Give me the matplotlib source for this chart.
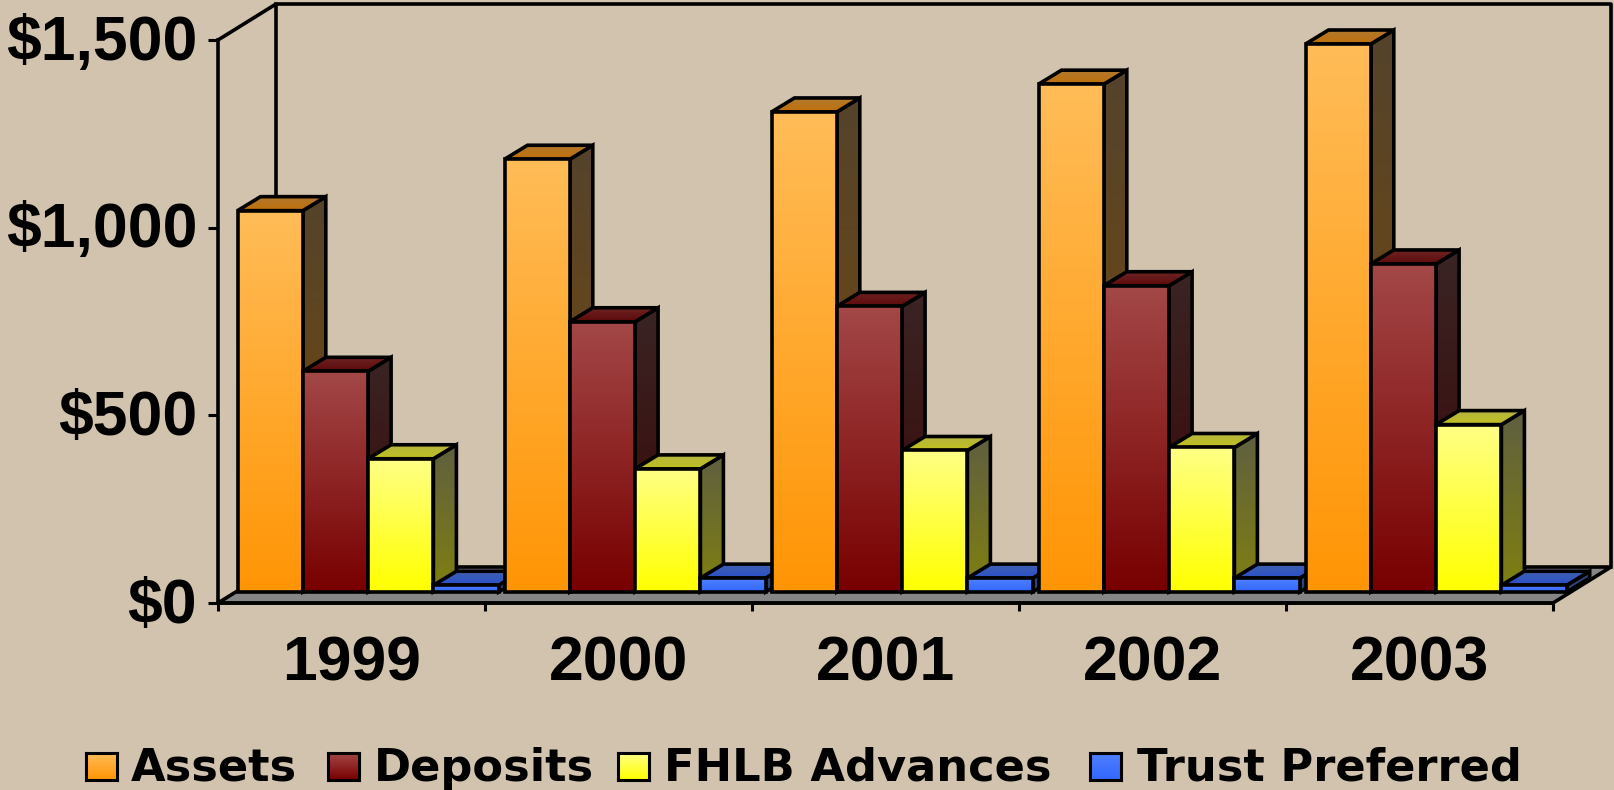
import numpy as np
import matplotlib
matplotlib.use('Agg')
import matplotlib.pyplot as plt
from matplotlib.patches import Polygon
from matplotlib.colors import to_rgb
from matplotlib.transforms import ScaledTranslation

years = ['1999', '2000', '2001', '2002', '2003']
assets = [1016, 1153, 1279, 1353, 1460]
deposits = [588, 720, 761, 816, 874]
fhlb = [355, 328, 377, 385, 446]
trust = [18, 37, 37, 37, 18]
series_names = ['Assets', 'Deposits', 'FHLB Advances', 'Trust Preferred']
y_ticks = [0, 500, 1000, 1500]
y_labels = ['$0', '$500', '$1,000', '$1,500']

# colours: front top/bottom, top face, side top/bottom
styles = [
    ('#FFBC57', '#FF9505', '#B07A2E', '#C06F0A', '#54432B', '#7A4A08'),
    ('#A34747', '#780000', '#6E2424', '#5E0A0A', '#3A2424', '#3A0505'),
    ('#FFFF85', '#FFFF00', '#B5B540', '#C0C020', '#5F5F40', '#808010'),
    ('#4F80FF', '#3366FF', '#4060B0', '#2A50C8', '#2E4478', '#2E4478'),
]
bg = '#D1C3AE'
floor_col = '#858585'

W, H = 1614, 790
fig = plt.figure(figsize=(W / 100, H / 100), dpi=100, facecolor=bg)
ax = fig.add_axes([218 / W, (H - 603) / H, 1335 / W, 563 / H])
ax.set_facecolor('none')

# one pixel in data units
PX = 5 / 1335
PY = 1500 / 563
wall_dx, wall_dy = 58 * PX, 36 * PY
bar_dx, bar_dy = 23 * PX, 14 * PY
base_dx, base_dy = 19.5 * PX, 11 * PY
bar_w = 65.3 * PX
LW = 2.6


def gradient_face(corners, top, bottom, z):
    pts = np.array(corners)
    c1, c2 = np.array(to_rgb(top)), np.array(to_rgb(bottom))
    t = np.linspace(0, 1, 64)[:, None, None]
    img = c1[None, None, :] * (1 - t) + c2[None, None, :] * t
    poly = Polygon(pts, closed=True, fill=False, edgecolor='black', lw=LW,
                   joinstyle='miter', clip_on=False, zorder=z + 0.5)
    ax.add_patch(poly)
    im = ax.imshow(img, extent=[pts[:, 0].min(), pts[:, 0].max(), pts[:, 1].min(), pts[:, 1].max()],
                   aspect='auto', origin='upper', interpolation='bilinear', zorder=z)
    im.set_clip_path(Polygon(pts, closed=True, transform=ax.transData))
    im.set_clip_box(fig.bbox)


# floor and walls
ax.add_patch(Polygon([(0, 0), (5, 0), (5 + wall_dx, wall_dy), (wall_dx, wall_dy)], closed=True,
                     facecolor=floor_col, edgecolor='black', lw=LW, clip_on=False, zorder=1))
ax.plot([0, wall_dx, wall_dx], [1500, 1500 + wall_dy, wall_dy], color='black', lw=LW, clip_on=False, zorder=1)
ax.plot([wall_dx, 5 + wall_dx, 5 + wall_dx], [1500 + wall_dy, 1500 + wall_dy, wall_dy],
        color='black', lw=LW, clip_on=False, zorder=1)

z = 2
for i in range(len(years)):
    for j, vals in enumerate([assets, deposits, fhlb, trust]):
        st = styles[j]
        x0 = i + base_dx + j * bar_w
        x1 = x0 + bar_w
        y0 = base_dy
        y1 = base_dy + vals[i]
        gradient_face([(x1, y0), (x1 + bar_dx, y0 + bar_dy), (x1 + bar_dx, y1 + bar_dy), (x1, y1)], st[4], st[5], z)
        gradient_face([(x0, y1), (x1, y1), (x1 + bar_dx, y1 + bar_dy), (x0 + bar_dx, y1 + bar_dy)], st[2], st[3], z + 1)
        gradient_face([(x0, y0), (x1, y0), (x1, y1), (x0, y1)], st[0], st[1], z + 2)
        z += 3

ax.set_xlim(0, 5)
ax.set_ylim(0, 1500)
for s in ['top', 'right']:
    ax.spines[s].set_visible(False)
for s in ['left', 'bottom']:
    ax.spines[s].set_linewidth(LW)
    ax.spines[s].set_zorder(1000)

font = 'Liberation Sans'
ax.set_yticks(y_ticks)
ax.set_yticklabels(y_labels, fontsize=45, fontweight='bold', family=font)
ax.set_xticks(range(6))
ax.set_xticklabels([])
ax.set_xticks(np.arange(5) + 0.5, minor=True)
ax.set_xticklabels(years, minor=True, fontsize=45, fontweight='bold', family=font)
ax.tick_params(axis='y', length=7, width=2.2, pad=8)
ax.tick_params(axis='x', which='major', length=6, width=2.2)
ax.tick_params(axis='x', which='minor', length=0, pad=23)
for lab in ax.get_yticklabels():
    lab.set_transform(lab.get_transform() + ScaledTranslation(0, 2.5 / 72, fig.dpi_scale_trans))

# legend
legend_x = [86, 328, 618, 1090]
text_x = [131, 374, 664, 1137]
for name, st, lx, tx in zip(series_names, styles, legend_x, text_x):
    lax = fig.add_axes([lx / W, (H - 780) / H, 31 / W, 27 / H])
    c1, c2 = np.array(to_rgb(st[0])), np.array(to_rgb(st[1]))
    t = np.linspace(0, 1, 32)[:, None, None]
    lax.imshow(c1[None, None, :] * (1 - t) + c2[None, None, :] * t, aspect='auto')
    lax.set_xticks([])
    lax.set_yticks([])
    for s in lax.spines.values():
        s.set_linewidth(2.2)
    fig.text(tx / W, (H - 768) / H, name, fontsize=32.2, fontweight='bold', family='DejaVu Sans',
             ha='left', va='center', color='black')

fig.savefig('out.png', dpi=100, facecolor=bg)
